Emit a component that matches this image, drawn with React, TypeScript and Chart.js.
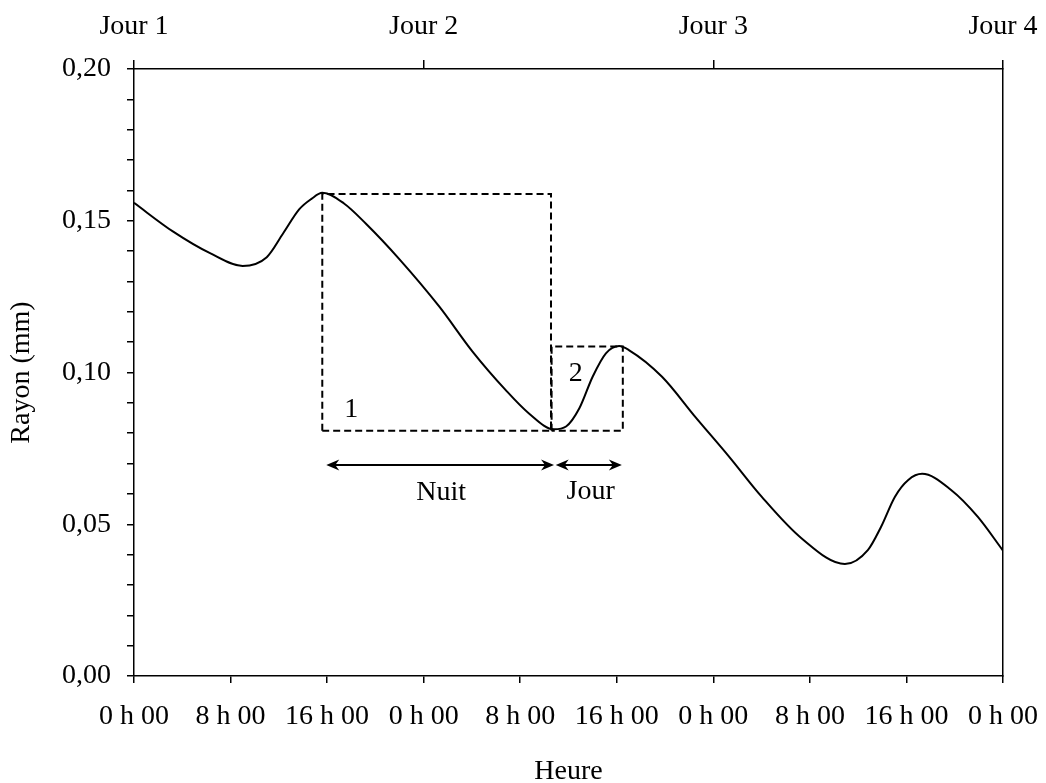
import React, { useEffect, useRef } from "react";
import { Chart, registerables } from "chart.js";

Chart.register(...registerables);

// ---- Data (hours since start, radius in mm) ----
const hours = [0, 3.25, 6.3, 9.0, 11.0, 12.35, 13.7, 14.7, 15.6, 17.4, 19.2, 22.0, 25.3, 28.05, 30.8, 32.7, 34.8, 35.8, 36.9, 38.0, 39.1, 40.2, 41.0, 43.75, 46.5, 49.3, 52.0, 55.3, 58.9, 60.8, 61.9, 63.05, 64.15, 65.3, 67.7, 69.9, 72];
const radius = [0.1559, 0.1464, 0.1393, 0.1351, 0.1380, 0.1458, 0.1538, 0.1572, 0.1592, 0.1557, 0.1491, 0.1373, 0.1217, 0.1069, 0.0942, 0.0866, 0.0813, 0.0822, 0.0882, 0.0986, 0.1063, 0.1087, 0.1074, 0.0986, 0.0854, 0.0723, 0.0591, 0.0454, 0.0369, 0.0415, 0.0492, 0.0591, 0.0646, 0.0666, 0.0613, 0.0525, 0.0413];

// dashed boxes
const box1Hours = [15.6, 15.6, 34.55, 34.55, 15.6];
const box1Radius = [0.0808, 0.1588, 0.1588, 0.0808, 0.0808];
const box2Hours = [34.6, 34.6, 40.5, 40.5, 34.6];
const box2Radius = [0.0808, 0.1086, 0.1086, 0.0808, 0.0808];

// double arrows
const arrowStart = [15.93, 34.94];
const arrowEnd = [34.8, 40.42];
const arrowLevel = [0.0695, 0.0695];

// annotation texts
const noteTexts = ["1", "2", "Nuit", "Jour"];
const noteHours = [17.99, 36.6, 25.44, 37.84];
const noteRadius = [0.0879, 0.0997, 0.0603, 0.0607];

// axes
const xTickValues = [0, 8, 16, 24, 32, 40, 48, 56, 64, 72];
const xTickLabels = ["0 h 00", "8 h 00", "16 h 00", "0 h 00", "8 h 00", "16 h 00", "0 h 00", "8 h 00", "16 h 00", "0 h 00"];
const dayTickValues = [0, 24, 48, 72];
const dayLabels = ["Jour 1", "Jour 2", "Jour 3", "Jour 4"];
const yTickValues = [0, 0.01, 0.02, 0.03, 0.04, 0.05, 0.06, 0.07, 0.08, 0.09, 0.1, 0.11, 0.12, 0.13, 0.14, 0.15, 0.16, 0.17, 0.18, 0.19, 0.2];
const yMajorLabels = ["0,00", "0,05", "0,10", "0,15", "0,20"];

const FONT = "'Liberation Serif', 'Times New Roman', serif";
const FS = 28;
const INK = "#000";

export default function App() {
  const ref = useRef<HTMLCanvasElement>(null);

  useEffect(() => {
    const canvas = ref.current;
    if (!canvas) return;

    const overlay = {
      id: "overlay",
      afterDatasetsDraw(chart: any) {
        const { ctx } = chart;
        const xs = chart.scales.x;
        const ys = chart.scales.y;
        ctx.save();
        ctx.fillStyle = INK;
        const head = (tipX: number, tipY: number, dir: number) => {
          const L = 13, W = 5.5, N = 4;
          ctx.beginPath();
          ctx.moveTo(tipX, tipY);
          ctx.lineTo(tipX - dir * L, tipY - W);
          ctx.lineTo(tipX - dir * (L - N), tipY);
          ctx.lineTo(tipX - dir * L, tipY + W);
          ctx.closePath();
          ctx.fill();
        };
        for (let i = 0; i < arrowStart.length; i++) {
          const y = ys.getPixelForValue(arrowLevel[i]);
          head(xs.getPixelForValue(arrowStart[i]), y, -1);
          head(xs.getPixelForValue(arrowEnd[i]), y, 1);
        }
        ctx.font = `${FS}px ${FONT}`;
        ctx.textAlign = "center";
        ctx.textBaseline = "middle";
        for (let i = 0; i < noteTexts.length; i++) {
          ctx.fillText(noteTexts[i], xs.getPixelForValue(noteHours[i]), ys.getPixelForValue(noteRadius[i]));
        }
        ctx.restore();
      },
    };

    const toPts = (xa: number[], ya: number[]) => xa.map((x, i) => ({ x, y: ya[i] }));

    const datasets: any[] = [
      {
        data: toPts(hours, radius),
        borderColor: INK,
        borderWidth: 2,
        cubicInterpolationMode: "monotone",
        pointRadius: 0,
        fill: false,
      },
      {
        data: toPts(box1Hours, box1Radius),
        borderColor: INK,
        borderWidth: 2,
        borderDash: [7, 4],
        tension: 0,
        pointRadius: 0,
        fill: false,
      },
      {
        data: toPts(box2Hours, box2Radius),
        borderColor: INK,
        borderWidth: 2,
        borderDash: [7, 4],
        tension: 0,
        pointRadius: 0,
        fill: false,
      },
    ];
    for (let i = 0; i < arrowStart.length; i++) {
      datasets.push({
        data: [
          { x: arrowStart[i] + 0.4, y: arrowLevel[i] },
          { x: arrowEnd[i] - 0.4, y: arrowLevel[i] },
        ],
        borderColor: INK,
        borderWidth: 2,
        tension: 0,
        pointRadius: 0,
        fill: false,
      });
    }

    const tickFont = { family: FONT, size: FS };
    const noSidePad = (s: any) => {
      s.paddingLeft = 0;
      s.paddingRight = 0;
    };

    const chart = new Chart(canvas, {
      type: "line",
      data: { datasets },
      options: {
        animation: false,
        responsive: false,
        parsing: false as any,
        layout: { padding: 0 },
        plugins: { legend: { display: false }, tooltip: { enabled: false } },
        elements: { point: { radius: 0 } },
        scales: {
          x: {
            type: "linear",
            position: "bottom",
            min: 0,
            max: 72,
            afterBuildTicks: (s: any) => {
              s.ticks = xTickValues.map((v) => ({ value: v }));
            },
            ticks: {
              autoSkip: false,
              maxRotation: 0,
              padding: 17,
              color: INK,
              font: tickFont,
              callback: (_v: any, i: number) => xTickLabels[i],
            },
            grid: { drawOnChartArea: false, tickLength: 7, color: INK, lineWidth: 1.5 },
            border: { color: INK, width: 1.5 },
            title: {
              display: true,
              text: "Heure",
              color: INK,
              font: { family: FONT, size: FS, lineHeight: 0.8 },
              padding: { top: 0, bottom: 0 },
            },
            afterFit: (s: any) => {
              s.height = 107;
              noSidePad(s);
            },
          },
          xTop: {
            type: "linear",
            position: "top",
            min: 0,
            max: 72,
            afterBuildTicks: (s: any) => {
              s.ticks = dayTickValues.map((v) => ({ value: v }));
            },
            ticks: {
              autoSkip: false,
              maxRotation: 0,
              padding: 17,
              color: INK,
              font: tickFont,
              callback: (_v: any, i: number) => dayLabels[i],
            },
            grid: { drawOnChartArea: false, tickLength: 9, color: INK, lineWidth: 1.5 },
            border: { color: INK, width: 1.5 },
            afterFit: (s: any) => {
              s.height = 69;
              noSidePad(s);
            },
          },
          y: {
            type: "linear",
            position: "left",
            min: 0,
            max: 0.2,
            afterBuildTicks: (s: any) => {
              s.ticks = yTickValues.map((v) => ({ value: v }));
            },
            ticks: {
              autoSkip: false,
              padding: 16,
              color: INK,
              font: tickFont,
              callback: (_v: any, i: number) => (i % 5 === 0 ? yMajorLabels[i / 5] : ""),
            },
            grid: { drawOnChartArea: false, tickLength: 7, color: INK, lineWidth: 1.5 },
            border: { color: INK, width: 1.5 },
            title: {
              display: true,
              text: "Rayon (mm)",
              color: INK,
              font: { family: FONT, size: FS, lineHeight: 1 },
              padding: { top: 8, bottom: 0 },
            },
            afterFit: (s: any) => {
              s.width = 134;
            },
          },
          yRight: {
            type: "linear",
            position: "right",
            min: 0,
            max: 0.2,
            ticks: { display: false },
            grid: { drawOnChartArea: false, drawTicks: false },
            border: { color: INK, width: 1.5 },
            afterFit: (s: any) => {
              s.width = 43;
            },
          },
        },
      } as any,
      plugins: [overlay],
    });

    return () => chart.destroy();
  }, []);

  return (
    <div style={{ position: "absolute", left: 0, top: 0, width: 1046, height: 783, background: "#fff" }}>
      <canvas ref={ref} width={1046} height={783} style={{ display: "block", width: 1046, height: 783 }} />
    </div>
  );
}
